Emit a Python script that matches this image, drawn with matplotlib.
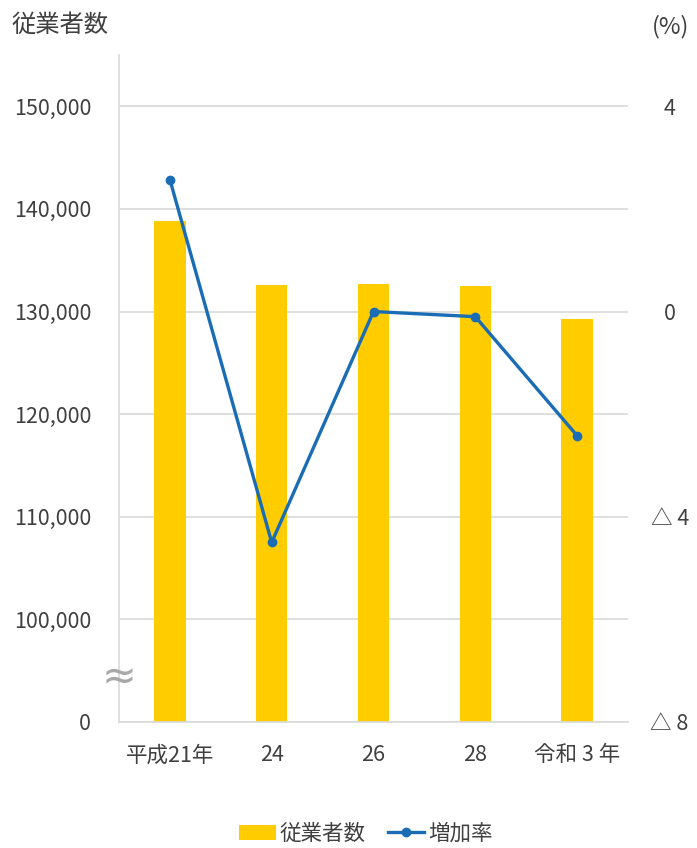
import numpy as np
import matplotlib
matplotlib.use('Agg')
import matplotlib.pyplot as plt

plt.rcParams['font.family'] = ['Noto Sans CJK JP', 'DejaVu Sans']

# data
years = ['平成21年', '24', '26', '28', '令和 3 年']
employees = [138800, 132600, 132650, 132500, 129300]   # 従業者数
growth = [2.57, -4.5, 0.0, -0.1, -2.42]                 # 増加率 (%)

left_ticks = [90000, 100000, 110000, 120000, 130000, 140000, 150000]
left_labels = ['0', '100,000', '110,000', '120,000', '130,000', '140,000', '150,000']
right_ticks = [-8, -4, 0, 4]
right_labels = ['△ 8', '△ 4', '0', '4']

bar_color = '#FFCC00'
line_color = '#1A6DB5'
grid_color = '#D9D9D9'
text_color = '#404040'

fig = plt.figure(figsize=(6.97, 8.48), dpi=100)
ax = fig.add_axes([119/697, 1-722/848, (628-119)/697, (722-55)/848])

x = np.arange(len(years))
ax.bar(x, employees, width=0.31, color=bar_color, zorder=2, label='従業者数')
ax.set_xlim(-0.5, len(years)-0.5)
ax.set_ylim(90000, 155000)
ax.set_yticks(left_ticks)
ax.set_yticklabels(left_labels)
ax.set_xticks(x)
ax.set_xticklabels(years)
ax.yaxis.grid(True, color=grid_color, linewidth=1.2, zorder=0)
ax.set_axisbelow(True)
for s in ['top', 'right']:
    ax.spines[s].set_visible(False)
ax.spines['left'].set_color(grid_color)
ax.spines['bottom'].set_color(grid_color)
ax.spines['left'].set_linewidth(1.2)
ax.spines['bottom'].set_linewidth(1.2)
ax.tick_params(axis='y', length=0, pad=20, labelsize=15.5, labelcolor=text_color)
ax.tick_params(axis='x', length=0, pad=16, labelsize=15.5, labelcolor=text_color)

# break mark on the value axis
ax.text(0, 94300, '≈', transform=ax.get_yaxis_transform(), ha='center', va='center',
        fontsize=30, color='#A8A8A8', family='DejaVu Sans', zorder=5)

ax2 = ax.twinx()
ax2.plot(x, growth, '-o', color=line_color, linewidth=2.4, markersize=6, zorder=3, label='増加率')
ax2.set_ylim(-8, 5)
ax2.set_yticks(right_ticks)
ax2.set_yticklabels(right_labels)
for s in ['top', 'right', 'left', 'bottom']:
    ax2.spines[s].set_visible(False)
ax2.tick_params(axis='y', length=0, pad=30, labelsize=15.5, labelcolor=text_color)
for lab in ax2.get_yticklabels():
    lab.set_horizontalalignment('center')

fig.text(12/697, 1-25/848, '従業者数', fontsize=17.5, color=text_color, va='center', ha='left')
fig.text(671/697, 1-27/848, '(%)', fontsize=17, color=text_color, va='center', ha='center')

h1, l1 = ax.get_legend_handles_labels()
h2, l2 = ax2.get_legend_handles_labels()
leg = fig.legend(h1 + h2, l1 + l2, loc='center', bbox_to_anchor=(366/697, 1-834/848),
                 ncol=2, frameon=False, fontsize=15.5, handlelength=1.7, handletextpad=0.2,
                 columnspacing=1.0)
for t in leg.get_texts():
    t.set_color(text_color)

fig.savefig('out.png', dpi=100)
